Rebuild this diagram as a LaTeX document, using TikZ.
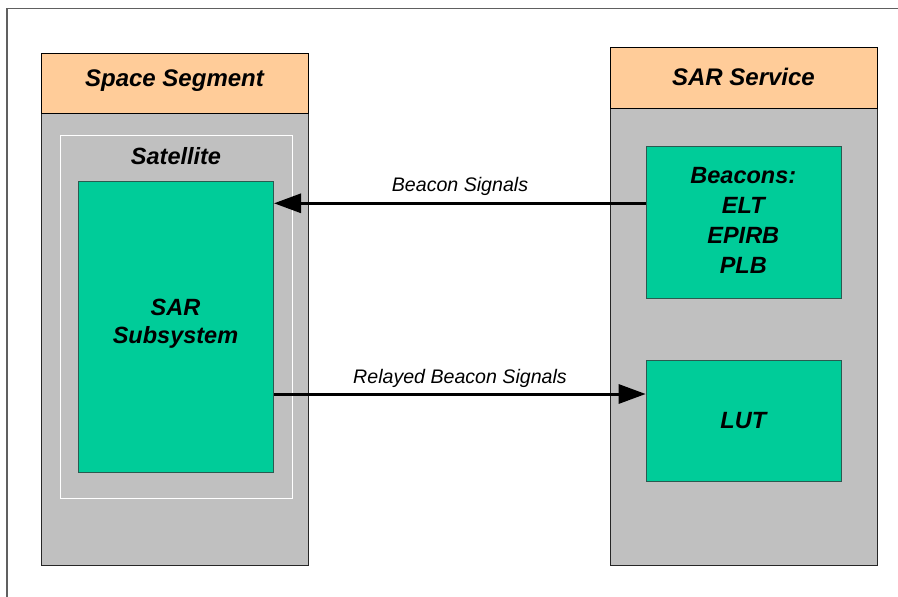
\documentclass[tikz,border=0pt]{standalone}
\usepackage{fontspec}
\setmainfont{Liberation Sans}
\usetikzlibrary{arrows.meta,calc}
\definecolor{peach}{HTML}{FFCC99}
\definecolor{panel}{HTML}{C0C0C0}
\definecolor{mint}{HTML}{00CC99}
\definecolor{mintedge}{HTML}{2A5A50}
\definecolor{framecol}{HTML}{606060}
\begin{document}
\begin{tikzpicture}[x=1pt,y=-1pt,
  header/.style={draw=black, fill=peach, line width=1pt, anchor=north west, inner sep=0pt,
    font=\bfseries\itshape\fontsize{24}{28}\selectfont},
  panelbox/.style={draw=black!85, fill=panel, line width=1pt, anchor=north west, inner sep=0pt},
  subbox/.style={draw=mintedge, fill=mint, line width=1pt, anchor=north west, inner sep=0pt, align=center,
    font=\bfseries\itshape\fontsize{23.5}{28}\selectfont},
  boldtxt/.style={inner sep=0pt, font=\bfseries\itshape\fontsize{23.5}{28}\selectfont},
  sig/.style={line width=3pt, -{Triangle[length=27pt,width=19pt]}},
  siglabel/.style={inner sep=0pt, font=\itshape\fontsize{19.6}{22}\selectfont}
]
\useasboundingbox (0,0) rectangle (898,597);
\draw[framecol, line width=1.5pt] (898,8.5) -- (7,8.5) -- (7,597);

% left column
\node[panelbox, minimum width=267pt, minimum height=452pt] (leftbody) at (41,113) {};
\node[header, minimum width=267pt, minimum height=60.3pt] (lefthead) at (41,52.7) {};
\node[boldtxt, font=\bfseries\itshape\fontsize{24}{28}\selectfont] (lefttitle) at (174.5,81) {Space Segment};
\node[draw=white, line width=1pt, anchor=north west, inner sep=0pt, minimum width=232pt, minimum height=363.3pt] (sat) at (60,134.7) {};
\node[boldtxt] (sattext) at (176,156) {Satellite};
\node[subbox, minimum width=195pt, minimum height=291pt] (sar) at (78,181) {};
\node[boldtxt, align=center] (sartext) at (175.5,324) {SAR\\Subsystem};

% right column
\node[panelbox, minimum width=266.4pt, minimum height=456.4pt] (rightbody) at (610.3,108.3) {};
\node[header, minimum width=266.4pt, minimum height=61pt] (righthead) at (610.3,47.3) {};
\node[boldtxt, font=\bfseries\itshape\fontsize{24}{28}\selectfont] (righttitle) at (743.5,77) {SAR Service};
\node[subbox, minimum width=195.3pt, minimum height=151.7pt] (beacons) at (645.7,146) {};
\node[boldtxt, align=center, font=\bfseries\itshape\fontsize{23.5}{30}\selectfont] (beacontext) at (743.3,220.5) {Beacons:\\ELT\\EPIRB\\PLB};
\node[subbox, minimum width=195.3pt, minimum height=121.3pt] (lut) at (645.7,359.7) {};
\node[boldtxt] (luttext) at (743.3,420.3) {LUT};

% connectors
\coordinate (sigA) at (0,203.3);
\coordinate (sigB) at (0,394);
\draw[sig] (beacons.west |- sigA) -- (sar.east |- sigA);
\draw[sig] (sar.east |- sigB) -- (lut.west |- sigB);
\node[siglabel] (labA) at (460,186) {Beacon Signals};
\node[siglabel] (labB) at (460,378.5) {Relayed Beacon Signals};
\end{tikzpicture}
\end{document}
